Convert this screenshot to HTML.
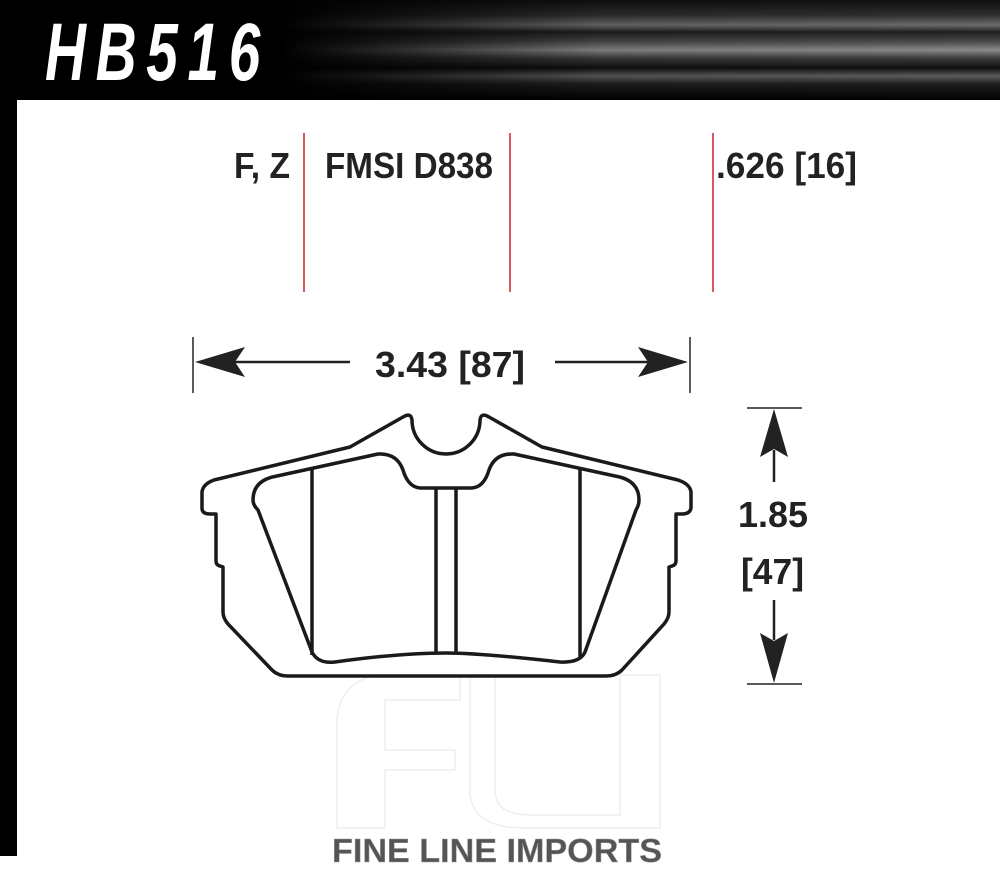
<!DOCTYPE html>
<html><head><style>html,body{margin:0;padding:0;background:#fff;width:1000px;height:878px;overflow:hidden}</style></head><body>
<svg width="1000" height="878" viewBox="0 0 1000 878" xmlns="http://www.w3.org/2000/svg" font-family="Liberation Sans, sans-serif">
<defs>
<linearGradient id="hg" x1="0" y1="0" x2="0" y2="1">
<stop offset="0" stop-color="#111"/><stop offset="0.15" stop-color="#333"/><stop offset="0.25" stop-color="#777"/><stop offset="0.32" stop-color="#222"/><stop offset="0.42" stop-color="#555"/><stop offset="0.5" stop-color="#999"/><stop offset="0.58" stop-color="#444"/><stop offset="0.68" stop-color="#111"/><stop offset="0.76" stop-color="#666"/><stop offset="0.84" stop-color="#222"/><stop offset="1" stop-color="#000"/>
</linearGradient>
<linearGradient id="fade" x1="0" y1="0" x2="1" y2="0">
<stop offset="0" stop-color="#000" stop-opacity="1"/><stop offset="0.28" stop-color="#000" stop-opacity="1"/><stop offset="0.6" stop-color="#000" stop-opacity="0.2"/><stop offset="1" stop-color="#000" stop-opacity="0.1"/>
</linearGradient>
</defs>
<rect x="0" y="0" width="1000" height="100" fill="url(#hg)"/>
<rect x="0" y="0" width="1000" height="100" fill="url(#fade)"/>
<rect x="0" y="0" width="17" height="856" fill="#000"/>
<text x="45" y="80" font-size="82" font-weight="bold" font-style="italic" fill="#fff" textLength="225" lengthAdjust="spacingAndGlyphs" letter-spacing="14">HB516</text>

<g stroke="#d0202a" stroke-width="1.5">
<line x1="304" y1="133" x2="304" y2="292"/><line x1="510" y1="133" x2="510" y2="292"/><line x1="713" y1="133" x2="713" y2="292"/>
</g>
<g font-weight="bold" font-size="36" fill="#222">
<text x="290" y="178" text-anchor="end" textLength="56" lengthAdjust="spacingAndGlyphs">F, Z</text>
<text x="325" y="178" textLength="168" lengthAdjust="spacingAndGlyphs">FMSI D838</text>
<text x="716" y="178" textLength="141" lengthAdjust="spacingAndGlyphs">.626 [16]</text>
<text x="375" y="377" textLength="150" lengthAdjust="spacingAndGlyphs">3.43 [87]</text>
<text x="738" y="527" textLength="70" lengthAdjust="spacingAndGlyphs">1.85</text>
<text x="741" y="584" textLength="63" lengthAdjust="spacingAndGlyphs">[47]</text>
</g>
<g stroke="#222" stroke-width="1.5">
<line x1="193" y1="337" x2="193" y2="393"/><line x1="690" y1="337" x2="690" y2="393"/>
<line x1="747" y1="408" x2="802" y2="408"/><line x1="747" y1="684" x2="802" y2="684"/>
</g>
<g stroke="#222" stroke-width="2.5">
<line x1="230" y1="362" x2="350" y2="362"/><line x1="555" y1="362" x2="650" y2="362"/>
<line x1="774" y1="450" x2="774" y2="482"/><line x1="774" y1="600" x2="774" y2="640"/>
</g>
<g fill="#222">
<path d="M195,362 L245,347 L235,362 L245,377 Z"/>
<path d="M688,362 L638,347 L648,362 L638,377 Z"/>
<path d="M774,409 L760,457 L774,449 L788,457 Z"/>
<path d="M774,683 L760,633 L774,641 L788,633 Z"/>
</g>

<!-- watermark -->
<g fill="none" stroke="#eee" stroke-width="1.5">
<path d="M337,828 L337,720 Q340,680 380,675 L460,675 L460,700 L385,700 L385,750 L455,750 L455,770 L385,770 L385,828 Z"/>
<path d="M470,675 L495,675 L495,790 Q495,815 530,815 L620,815 L620,675 L660,675 L660,828 L525,828 Q470,828 470,790 Z"/>
</g>
<text x="332" y="862" font-size="33" font-weight="bold" fill="#555" stroke="#999" stroke-width="0.5" textLength="330" lengthAdjust="spacingAndGlyphs">FINE LINE IMPORTS</text>

<!-- pad -->
<g fill="none" stroke="#1a1a1a" stroke-width="3.5" stroke-linejoin="round">
<path d="M350,447 L403,417 Q411,412 412,420 A31,31 0 0 0 480,420 Q481,412 489,417 L542,447 L678,480 Q690,484 691,492 L691,508 Q690,514 682,514 L676,514 L676,561 Q676,565 672,566 L669,567 L669,612 Q669,618 664,624 L622,670 Q616,676 606,676 L288,676 Q278,676 272,670 L228,624 Q223,618 223,612 L223,567 L220,566 Q216,565 216,561 L216,514 L210,514 Q202,514 202,508 L202,492 Q203,484 214,480 Z"/>
<path d="M253,500 Q253,480 277,476 L378,454 Q397,453 403,470 Q408,487 420,488 L472,488 Q484,487 489,470 Q495,453 514,454 L615,476 Q639,480 639,500 Q639,505 636,510 L585,652 Q580,663 560,662 Q480,653 446,653 Q400,653 335,662 Q318,664 312,652 L258,510 Q253,505 253,500 Z"/>
<line x1="312" y1="469" x2="312" y2="655"/>
<line x1="580" y1="469" x2="580" y2="657"/>
<line x1="436" y1="489" x2="436" y2="654"/>
<line x1="456" y1="489" x2="456" y2="654"/>
</g>
</svg>
</body></html>
